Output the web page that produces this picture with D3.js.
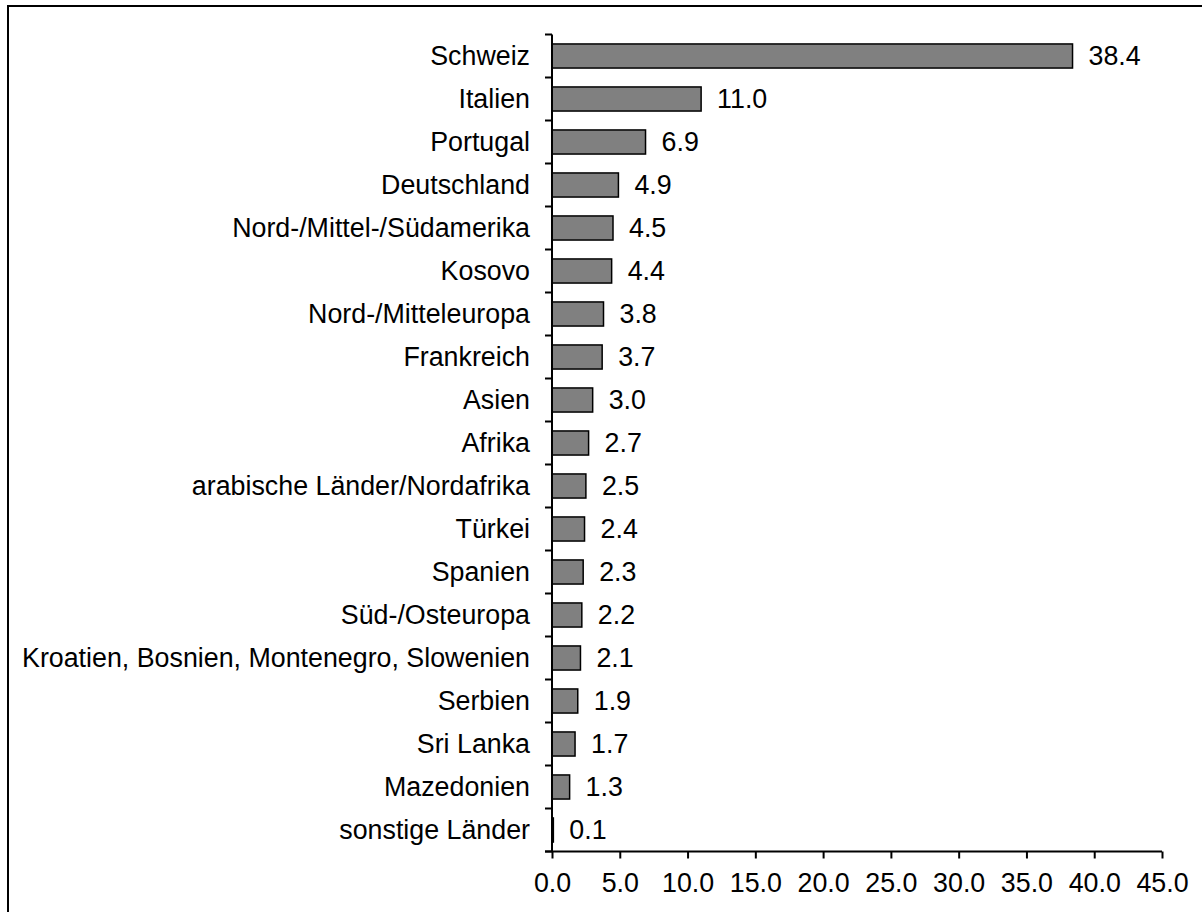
<!DOCTYPE html>
<html>
<head>
<meta charset="utf-8">
<script src="https://cdn.jsdelivr.net/npm/d3@7"></script>
<style>
  body { margin: 0; background: #fff; }
  svg { display: block; font-family: "Liberation Sans", Arial, sans-serif; }
</style>
</head>
<body>
<div id="chart"></div>
<script>
// Data
const countries = ["Schweiz", "Italien", "Portugal", "Deutschland", "Nord-/Mittel-/Südamerika",
  "Kosovo", "Nord-/Mitteleuropa", "Frankreich", "Asien", "Afrika", "arabische Länder/Nordafrika",
  "Türkei", "Spanien", "Süd-/Osteuropa", "Kroatien, Bosnien, Montenegro, Slowenien",
  "Serbien", "Sri Lanka", "Mazedonien", "sonstige Länder"];
const shares = [38.4, 11.0, 6.9, 4.9, 4.5, 4.4, 3.8, 3.7, 3.0, 2.7, 2.5, 2.4, 2.3, 2.2, 2.1, 1.9, 1.7, 1.3, 0.1];
const xTicks = [0, 5, 10, 15, 20, 25, 30, 35, 40, 45];

const data = countries.map((c, i) => ({ name: c, value: shares[i] }));

const W = 1202, H = 912;
const fontSize = 26.8;
const svg = d3.select("#chart").append("svg")
  .attr("width", W).attr("height", H);

// outer frame (right and bottom run off the picture)
svg.append("rect")
  .attr("x", 8).attr("y", 6)
  .attr("width", 1210).attr("height", 920)
  .attr("fill", "none").attr("stroke", "#000").attr("stroke-width", 2);

const x = d3.scaleLinear().domain([0, 45]).range([552, 1162]);
const y = d3.scaleBand().domain(countries).range([34.5, 851.5]).paddingInner(0.44).paddingOuter(0.22);

// bars
svg.selectAll(".bar")
  .data(data)
  .enter()
  .append("rect")
  .attr("class", "bar")
  .attr("x", x(0))
  .attr("y", d => y(d.name))
  .attr("width", d => x(d.value) - x(0))
  .attr("height", y.bandwidth())
  .attr("fill", "#808080")
  .attr("stroke", "#000")
  .attr("stroke-width", 1.5);

// value labels
svg.selectAll(".val")
  .data(data)
  .enter()
  .append("text")
  .attr("x", d => x(d.value) + 16)
  .attr("y", d => y(d.name) + y.bandwidth() / 2)
  .attr("dy", "0.34em")
  .attr("font-size", fontSize)
  .text(d => d.value.toFixed(1));

// category labels
svg.selectAll(".cat")
  .data(data)
  .enter()
  .append("text")
  .attr("x", 530)
  .attr("y", d => y(d.name) + y.bandwidth() / 2)
  .attr("dy", "0.34em")
  .attr("text-anchor", "end")
  .attr("font-size", fontSize)
  .text(d => d.name);

// y axis line + separator ticks
const yAxis = svg.append("g").attr("stroke", "#000").attr("stroke-width", 2);
yAxis.append("line")
  .attr("x1", x(0)).attr("x2", x(0))
  .attr("y1", y.range()[0]).attr("y2", y.range()[1]);
const yEdges = countries.map(c => y(c) - y.step() * y.paddingInner() / 2);
yEdges.push(y.range()[1]);
yAxis.selectAll(".ytick")
  .data(yEdges)
  .enter()
  .append("line")
  .attr("x1", x(0) - 7).attr("x2", x(0))
  .attr("y1", d => d).attr("y2", d => d);

// x axis
const xAxis = svg.append("g")
  .attr("transform", `translate(0,${y.range()[1]})`)
  .call(d3.axisBottom(x).tickValues(xTicks).tickFormat(d3.format(".1f")).tickSize(7).tickPadding(14));
xAxis.select(".domain").attr("stroke-width", 2).attr("d", `M${x(0) - 7},0H${x(45)}`);
xAxis.selectAll(".tick line").attr("stroke-width", 2);
xAxis.selectAll(".tick text").attr("font-size", fontSize).attr("font-family", "Liberation Sans, Arial, sans-serif").attr("fill", "#000");
</script>
</body>
</html>
